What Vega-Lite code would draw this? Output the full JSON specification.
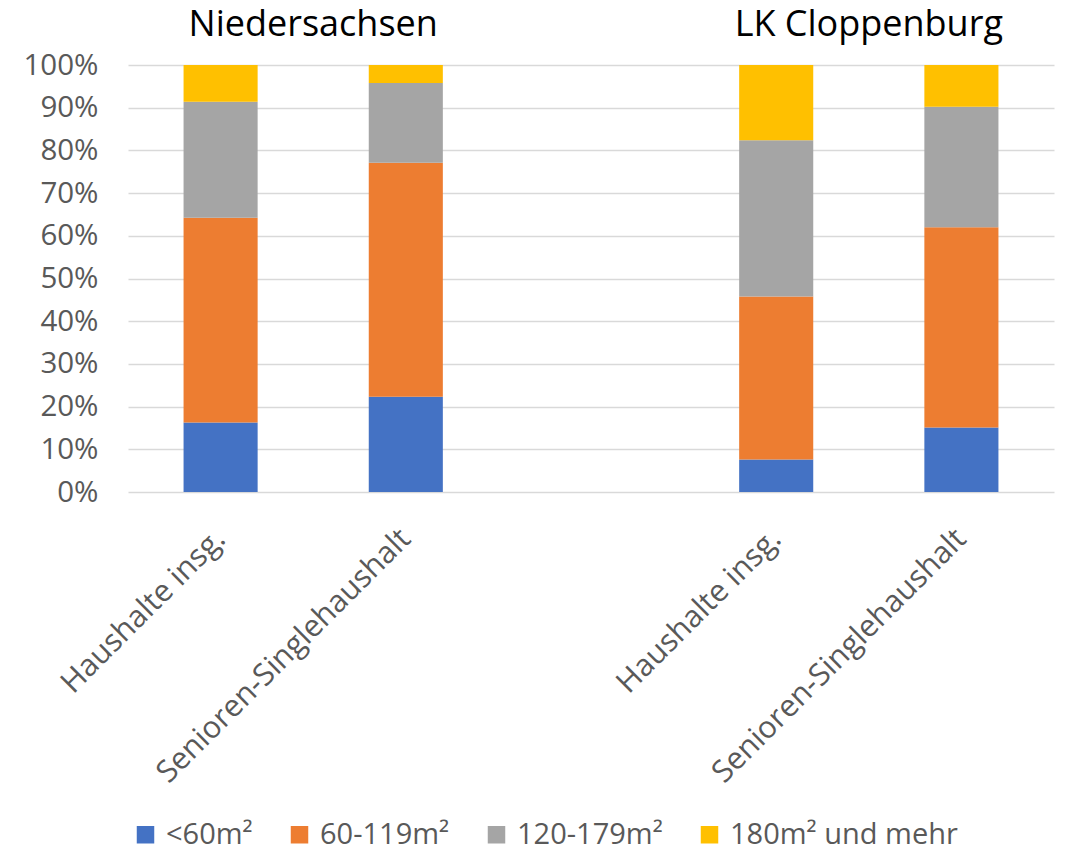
{
  "$schema": "https://vega.github.io/schema/vega-lite/v6.json",
  "width": 926,
  "height": 427,
  "autosize": "none",
  "padding": {"left": 128, "top": 65, "right": 12, "bottom": 358},
  "background": "white",
  "config": {"view": {"stroke": null}, "font": "Open Sans"},
  "resolve": {"scale": {"x": "independent"}, "axis": {"x": "independent"}},
  "layer": [
    {
      "data": {
        "values": [
          {"cat": "NI|Haushalte insg.", "size": "<60m²", "ord": 1, "value": 16.3},
          {"cat": "NI|Haushalte insg.", "size": "60-119m²", "ord": 2, "value": 47.9},
          {"cat": "NI|Haushalte insg.", "size": "120-179m²", "ord": 3, "value": 27.2},
          {"cat": "NI|Haushalte insg.", "size": "180m² und mehr", "ord": 4, "value": 8.6},
          {"cat": "NI|Senioren-Singlehaushalt", "size": "<60m²", "ord": 1, "value": 22.3},
          {"cat": "NI|Senioren-Singlehaushalt", "size": "60-119m²", "ord": 2, "value": 54.8},
          {"cat": "NI|Senioren-Singlehaushalt", "size": "120-179m²", "ord": 3, "value": 18.7},
          {"cat": "NI|Senioren-Singlehaushalt", "size": "180m² und mehr", "ord": 4, "value": 4.2},
          {"cat": "CLP|Haushalte insg.", "size": "<60m²", "ord": 1, "value": 7.6},
          {"cat": "CLP|Haushalte insg.", "size": "60-119m²", "ord": 2, "value": 38.2},
          {"cat": "CLP|Haushalte insg.", "size": "120-179m²", "ord": 3, "value": 36.6},
          {"cat": "CLP|Haushalte insg.", "size": "180m² und mehr", "ord": 4, "value": 17.6},
          {"cat": "CLP|Senioren-Singlehaushalt", "size": "<60m²", "ord": 1, "value": 15.1},
          {"cat": "CLP|Senioren-Singlehaushalt", "size": "60-119m²", "ord": 2, "value": 46.9},
          {"cat": "CLP|Senioren-Singlehaushalt", "size": "120-179m²", "ord": 3, "value": 28.2},
          {"cat": "CLP|Senioren-Singlehaushalt", "size": "180m² und mehr", "ord": 4, "value": 9.8}
        ]
      },
      "mark": {"type": "bar"},
      "encoding": {
        "x": {
          "field": "cat",
          "type": "nominal",
          "sort": null,
          "scale": {
            "domain": ["NI|Haushalte insg.", "NI|Senioren-Singlehaushalt", "gap|", "CLP|Haushalte insg.", "CLP|Senioren-Singlehaushalt"],
            "paddingInner": 0.6,
            "paddingOuter": 0.3
          },
          "axis": {
            "title": null,
            "labelExpr": "split(datum.value, '|')[1]",
            "labelAngle": -45,
            "labelAlign": "right",
            "labelBaseline": "middle",
            "labelPadding": 42,
            "labelFontSize": 30.5,
            "labelColor": "#595959",
            "labelFont": "Open Sans",
            "labelLimit": 600,
            "labelOverlap": false,
            "ticks": false,
            "domain": false,
            "grid": false
          }
        },
        "y": {
          "field": "value",
          "type": "quantitative",
          "stack": "zero",
          "scale": {"domain": [0, 100], "nice": false},
          "axis": {
            "title": null,
            "values": [0, 10, 20, 30, 40, 50, 60, 70, 80, 90, 100],
            "labelExpr": "datum.value + '%'",
            "labelFontSize": 29.5,
            "labelColor": "#595959",
            "labelFont": "Open Sans",
            "labelPadding": 30,
            "ticks": false,
            "domain": false,
            "grid": true,
            "gridColor": "#D9D9D9",
            "gridWidth": 1.5
          }
        },
        "color": {
          "field": "size",
          "type": "nominal",
          "scale": {
            "domain": ["<60m²", "60-119m²", "120-179m²", "180m² und mehr"],
            "range": ["#4472C4", "#ED7D31", "#A5A5A5", "#FFC000"]
          },
          "legend": {
            "title": null,
            "orient": "none",
            "direction": "horizontal",
            "legendX": 3,
            "legendY": 755,
            "padding": 0,
            "symbolType": "square",
            "symbolSize": 306,
            "symbolStrokeWidth": 0,
            "symbolOpacity": 1,
            "labelFontSize": 29,
            "labelColor": "#595959",
            "labelFont": "Open Sans",
            "labelOffset": 6,
            "columnPadding": 32,
            "labelLimit": 400
          }
        },
        "order": {"field": "ord", "type": "quantitative"}
      }
    },
    {
      "data": {
        "values": [
          {"title": "Niedersachsen", "pos": 1},
          {"title": "LK Cloppenburg", "pos": 4}
        ]
      },
      "mark": {"type": "text", "fontSize": 36, "color": "#000000", "font": "Open Sans", "baseline": "alphabetic", "align": "center"},
      "encoding": {
        "x": {"field": "pos", "type": "quantitative", "scale": {"domain": [0, 5], "nice": false, "zero": false}, "axis": null},
        "y": {"datum": 106.8},
        "text": {"field": "title"}
      }
    }
  ]
}
